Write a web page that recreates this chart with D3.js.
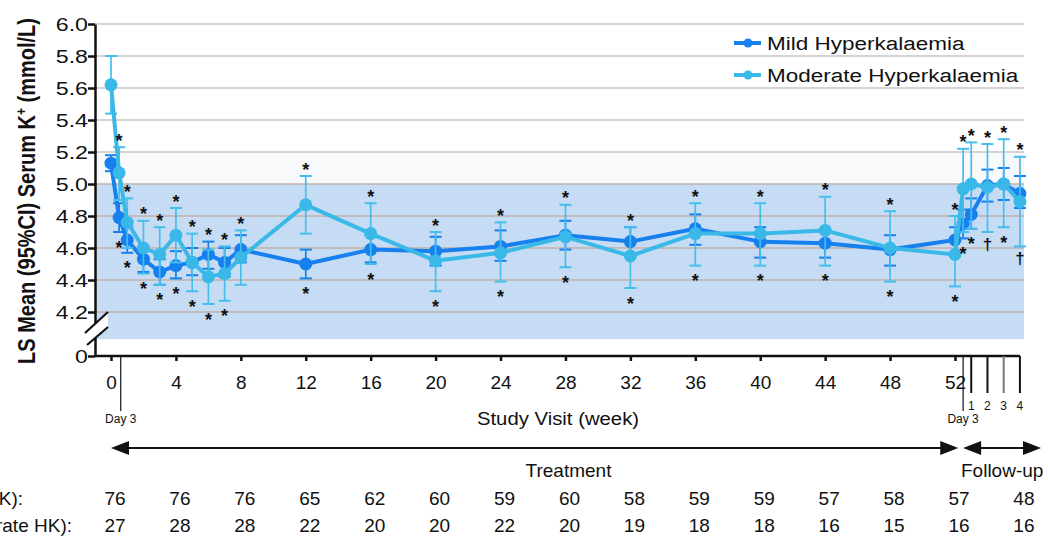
<!DOCTYPE html>
<html lang="en">
  <head>
    <meta charset="UTF-8" />
    <title>LS Mean Serum K+</title>
    <script src="https://d3js.org/d3.v7.min.js"></script>
    <style>
      body {
        margin: 0;
        background: #fff;
        font-family: 'Liberation Sans', Arial, sans-serif;
      }
      text {
        fill: #111;
      }
      .axis path,
      .axis line {
        stroke: #111;
        stroke-width: 2.5px;
      }
      .axis text {
        font-size: 19px;
        fill: #111;
      }
    </style>
  </head>
  <body>
    <svg width="1048" height="537"></svg>
    <script>
      // visit positions in weeks; follow-up week k is drawn at 52 + k
      const visitWeeks = [0, 0.5, 1, 2, 3, 4, 5, 6, 7, 8, 12, 16, 20, 24, 28, 32, 36, 40, 44, 48, 52, 52.5, 53, 54, 55, 56];

      const mildMean = [5.13, 4.79, 4.65, 4.53, 4.45, 4.49, 4.51, 4.56, 4.51, 4.59, 4.5, 4.59, 4.58, 4.61, 4.68, 4.64, 4.72, 4.64, 4.63, 4.59, 4.65, 4.75, 4.81, 4.99, 5.0, 4.94];
      const mildLow = [5.08, 4.7, 4.57, 4.45, 4.37, 4.41, 4.43, 4.47, 4.42, 4.51, 4.41, 4.51, 4.49, 4.52, 4.59, 4.55, 4.62, 4.54, 4.54, 4.49, 4.57, 4.66, 4.72, 4.89, 4.9, 4.85];
      const mildHigh = [5.18, 4.88, 4.73, 4.61, 4.53, 4.58, 4.6, 4.64, 4.6, 4.68, 4.59, 4.68, 4.67, 4.71, 4.77, 4.73, 4.81, 4.73, 4.72, 4.68, 4.73, 4.84, 4.91, 5.09, 5.1, 5.05];

      const modMean = [5.62, 5.07, 4.76, 4.6, 4.56, 4.68, 4.51, 4.42, 4.44, 4.54, 4.87, 4.69, 4.52, 4.57, 4.67, 4.55, 4.69, 4.69, 4.71, 4.6, 4.56, 4.97, 5.0, 4.98, 5.0, 4.89];
      const modLow = [5.44, 4.9, 4.6, 4.44, 4.37, 4.51, 4.33, 4.25, 4.27, 4.37, 4.69, 4.5, 4.33, 4.39, 4.48, 4.35, 4.49, 4.49, 4.49, 4.39, 4.36, 4.7, 4.72, 4.7, 4.73, 4.61];
      const modHigh = [5.8, 5.23, 4.91, 4.77, 4.73, 4.85, 4.69, 4.59, 4.61, 4.71, 5.05, 4.88, 4.7, 4.76, 4.87, 4.73, 4.88, 4.88, 4.92, 4.83, 4.8, 5.22, 5.26, 5.25, 5.28, 5.17];

      const aboveMark = ['', '*', '*', '*', '*', '*', '*', '*', '*', '*', '*', '*', '*', '*', '*', '*', '*', '*', '*', '*', '*', '*', '*', '*', '*', '*'];
      const belowMark = ['', '*', '*', '*', '*', '*', '*', '*', '*', '', '*', '*', '*', '*', '*', '*', '*', '*', '*', '*', '*', '*', '*', '†', '*', '†'];

      const yTicks = [4.2, 4.4, 4.6, 4.8, 5.0, 5.2, 5.4, 5.6, 5.8, 6.0];
      const xTicks = [0, 4, 8, 12, 16, 20, 24, 28, 32, 36, 40, 44, 48, 52];
      const fuTicks = [53, 54, 55, 56];
      const fuLabels = ['1', '2', '3', '4'];

      const nWeeks = [0, 4, 8, 12, 16, 20, 24, 28, 32, 36, 40, 44, 48, 52, 56];
      const nMild = [76, 76, 76, 65, 62, 60, 59, 60, 58, 59, 59, 57, 58, 57, 48];
      const nModerate = [27, 28, 28, 22, 20, 20, 22, 20, 19, 18, 18, 16, 15, 16, 16];

      const AXIS_ZERO = 3.925; // where the broken axis shows "0"
      const BAND = [4.03, 5.0];
      const FAINT = [5.0, 5.2];

      const svg = d3.select('svg');
      const x = d3.scaleLinear().domain([0, 52]).range([111, 955]);
      const y = d3.scaleLinear().domain([AXIS_ZERO, 6.0]).range([356, 24]);
      const left = 95;
      const right = 1024;
      const axisY = y(AXIS_ZERO);

      const series = [
        { name: 'Mild Hyperkalaemia', color: '#1680ee', bar: '#1680ee', mean: mildMean, lo: mildLow, hi: mildHigh },
        { name: 'Moderate Hyperkalaemia', color: '#3ab9e9', bar: '#44bfec', mean: modMean, lo: modLow, hi: modHigh },
      ];

      function label(parent, px, py, str, size, anchor, sx, weight) {
        return parent
          .append('text')
          .attr('transform', `translate(${px},${py}) scale(${sx || 1},1)`)
          .attr('text-anchor', anchor || 'start')
          .style('font-size', size + 'px')
          .style('font-weight', weight || 'normal')
          .text(str);
      }

      // background bands
      svg.append('rect')
        .attr('x', left).attr('width', right - left)
        .attr('y', y(FAINT[1])).attr('height', y(FAINT[0]) - y(FAINT[1]))
        .attr('fill', '#f8f9fa');
      svg.append('rect')
        .attr('x', left).attr('width', right - left)
        .attr('y', y(BAND[1])).attr('height', y(BAND[0]) - y(BAND[1]))
        .attr('fill', '#c6dcf5');

      // gridlines
      svg.append('g')
        .selectAll('line')
        .data(yTicks)
        .join('line')
        .attr('x1', left).attr('x2', right)
        .attr('y1', (d) => y(d)).attr('y2', (d) => y(d))
        .attr('stroke', (d) => (d > 5.0 ? '#c6c6c6' : '#c2b2aa'))
        .attr('stroke-width', 1.5);

      // axes
      const yAxis = svg.append('g')
        .attr('class', 'axis')
        .attr('transform', `translate(${left},0)`)
        .call(
          d3.axisLeft(y)
            .tickValues([AXIS_ZERO].concat(yTicks))
            .tickSize(7)
            .tickSizeOuter(0)
            .tickFormat((d) => (d === AXIS_ZERO ? '0' : d.toFixed(1)))
        );
      yAxis.selectAll('text')
        .attr('x', -7 / 1.22)
        .attr('transform', 'scale(1.22,1)');

      const xAxis = svg.append('g')
        .attr('class', 'axis')
        .attr('transform', `translate(0,${axisY})`)
        .call(d3.axisBottom(x).tickValues(xTicks).tickSize(5).tickPadding(15).tickFormat(d3.format('d')));
      xAxis.select('.domain').remove();

      svg.append('line')
        .attr('x1', left).attr('x2', x(56))
        .attr('y1', axisY).attr('y2', axisY)
        .attr('stroke', '#111').attr('stroke-width', 2.5);

      // follow-up ticks and Day 3 markers
      fuTicks.forEach((w, i) => {
        svg.append('line')
          .attr('x1', x(w)).attr('x2', x(w))
          .attr('y1', axisY).attr('y2', axisY + 37)
          .attr('stroke', i === 2 ? '#777' : '#111').attr('stroke-width', 2);
        label(svg, x(w), axisY + 54, fuLabels[i], 12, 'middle');
      });
      [0.6, 52.5].forEach((w) => {
        svg.append('line')
          .attr('x1', x(w)).attr('x2', x(w))
          .attr('y1', axisY).attr('y2', axisY + 55)
          .attr('stroke', '#111').attr('stroke-width', 1.2);
        label(svg, x(w), axisY + 67, 'Day 3', 12, 'middle');
      });

      // axis break
      const by = y(4.2);
      svg.append('path')
        .attr('d', `M${left - 10},${by + 21} L${left + 13},${by} L${left + 13},${by + 15} L${left - 8},${by + 33} Z`)
        .attr('fill', '#fff');
      [[by + 21, by], [by + 33, by + 15]].forEach(([y1, y2], i) => {
        svg.append('line')
          .attr('x1', left - 10 + i * 2).attr('y1', y1)
          .attr('x2', left + 13).attr('y2', y2)
          .attr('stroke', '#111').attr('stroke-width', 2.2);
      });

      // series
      const line = d3.line().x((d) => x(d[0])).y((d) => y(d[1]));
      series.forEach((s) => {
        const g = svg.append('g');
        const pts = visitWeeks.map((w, i) => ({ w, m: s.mean[i], lo: s.lo[i], hi: s.hi[i] }));
        const bars = g.selectAll('.bar').data(pts).join('g').attr('stroke', s.bar).attr('stroke-width', 1.7);
        bars.append('line')
          .attr('x1', (d) => x(d.w)).attr('x2', (d) => x(d.w))
          .attr('y1', (d) => y(d.lo)).attr('y2', (d) => y(d.hi));
        ['lo', 'hi'].forEach((k) => {
          bars.append('line')
            .attr('x1', (d) => x(d.w) - 6).attr('x2', (d) => x(d.w) + 6)
            .attr('y1', (d) => y(d[k])).attr('y2', (d) => y(d[k]))
            .attr('stroke-width', 2);
        });
        g.append('path')
          .datum(pts.map((d) => [d.w, d.m]))
          .attr('d', line)
          .attr('fill', 'none')
          .attr('stroke', s.color)
          .attr('stroke-width', 4)
          .attr('stroke-linejoin', 'round');
        g.selectAll('circle')
          .data(pts)
          .join('circle')
          .attr('cx', (d) => x(d.w))
          .attr('cy', (d) => y(d.m))
          .attr('r', 6.5)
          .attr('fill', s.color);
      });

      // significance marks
      visitWeeks.forEach((w, i) => {
        const top = Math.max(mildHigh[i], modHigh[i]);
        const bot = Math.min(mildLow[i], modLow[i]);
        if (aboveMark[i]) label(svg, x(w), y(top) - 0.5, aboveMark[i], 18, 'middle', 1, 'bold');
        if (belowMark[i]) {
          const dagger = belowMark[i] === '†';
          label(svg, x(w), y(bot) + (dagger ? 18 : 21.5), belowMark[i], dagger ? 17 : 18, 'middle', 1, 'bold');
        }
      });

      // legend
      series.forEach((s, i) => {
        const ly = 43 + i * 32;
        svg.append('line')
          .attr('x1', 734).attr('x2', 761)
          .attr('y1', ly).attr('y2', ly)
          .attr('stroke', s.color).attr('stroke-width', 4);
        svg.append('circle').attr('cx', 748).attr('cy', ly).attr('r', 4.5).attr('fill', s.color);
        label(svg, 767, ly + 6.5, s.name, 18, 'start', 1.25);
      });

      // y title
      const yt = svg.append('text')
        .attr('transform', 'translate(35,191) scale(1.15,1) rotate(-90)')
        .attr('text-anchor', 'middle')
        .style('font-size', '20px')
        .style('font-weight', 'bold');
      yt.append('tspan').text('LS Mean (95%CI) Serum K');
      yt.append('tspan').attr('dy', -8).style('font-size', '12px').text('+');
      yt.append('tspan').attr('dy', 8).text(' (mmol/L)');

      label(svg, 558, 425, 'Study Visit (week)', 19, 'middle', 1.07);

      // phase arrows
      const arrowY = 448;
      function arrow(x1, x2, headLeft, headRight) {
        svg.append('line')
          .attr('x1', x1 + (headLeft ? 10 : 0)).attr('x2', x2 - (headRight ? 10 : 0))
          .attr('y1', arrowY).attr('y2', arrowY)
          .attr('stroke', '#111').attr('stroke-width', 2);
        if (headLeft) {
          svg.append('path').attr('d', `M${x1},${arrowY} L${x1 + 18},${arrowY - 7} L${x1 + 18},${arrowY + 7} Z`).attr('fill', '#111');
        }
        if (headRight) {
          svg.append('path').attr('d', `M${x2},${arrowY} L${x2 - 18},${arrowY - 7} L${x2 - 18},${arrowY + 7} Z`).attr('fill', '#111');
        }
      }
      arrow(x(0), x(52.2), true, true);
      arrow(x(52.5), x(57.3), true, true);
      label(svg, x(28) + 3, 477, 'Treatment', 19, 'middle');
      label(svg, 961, 477, 'Follow-up', 19, 'start');

      // patient numbers (row labels run off the left edge, as in the source figure)
      label(svg, 23, 505, 'n (Mild HK):', 19, 'end');
      label(svg, 72, 532, 'n (Moderate HK):', 19, 'end');
      nWeeks.forEach((w, i) => {
        label(svg, x(w) + 4, 505, nMild[i], 19, 'middle');
        label(svg, x(w) + 4, 532, nModerate[i], 19, 'middle');
      });
    </script>
  </body>
</html>
